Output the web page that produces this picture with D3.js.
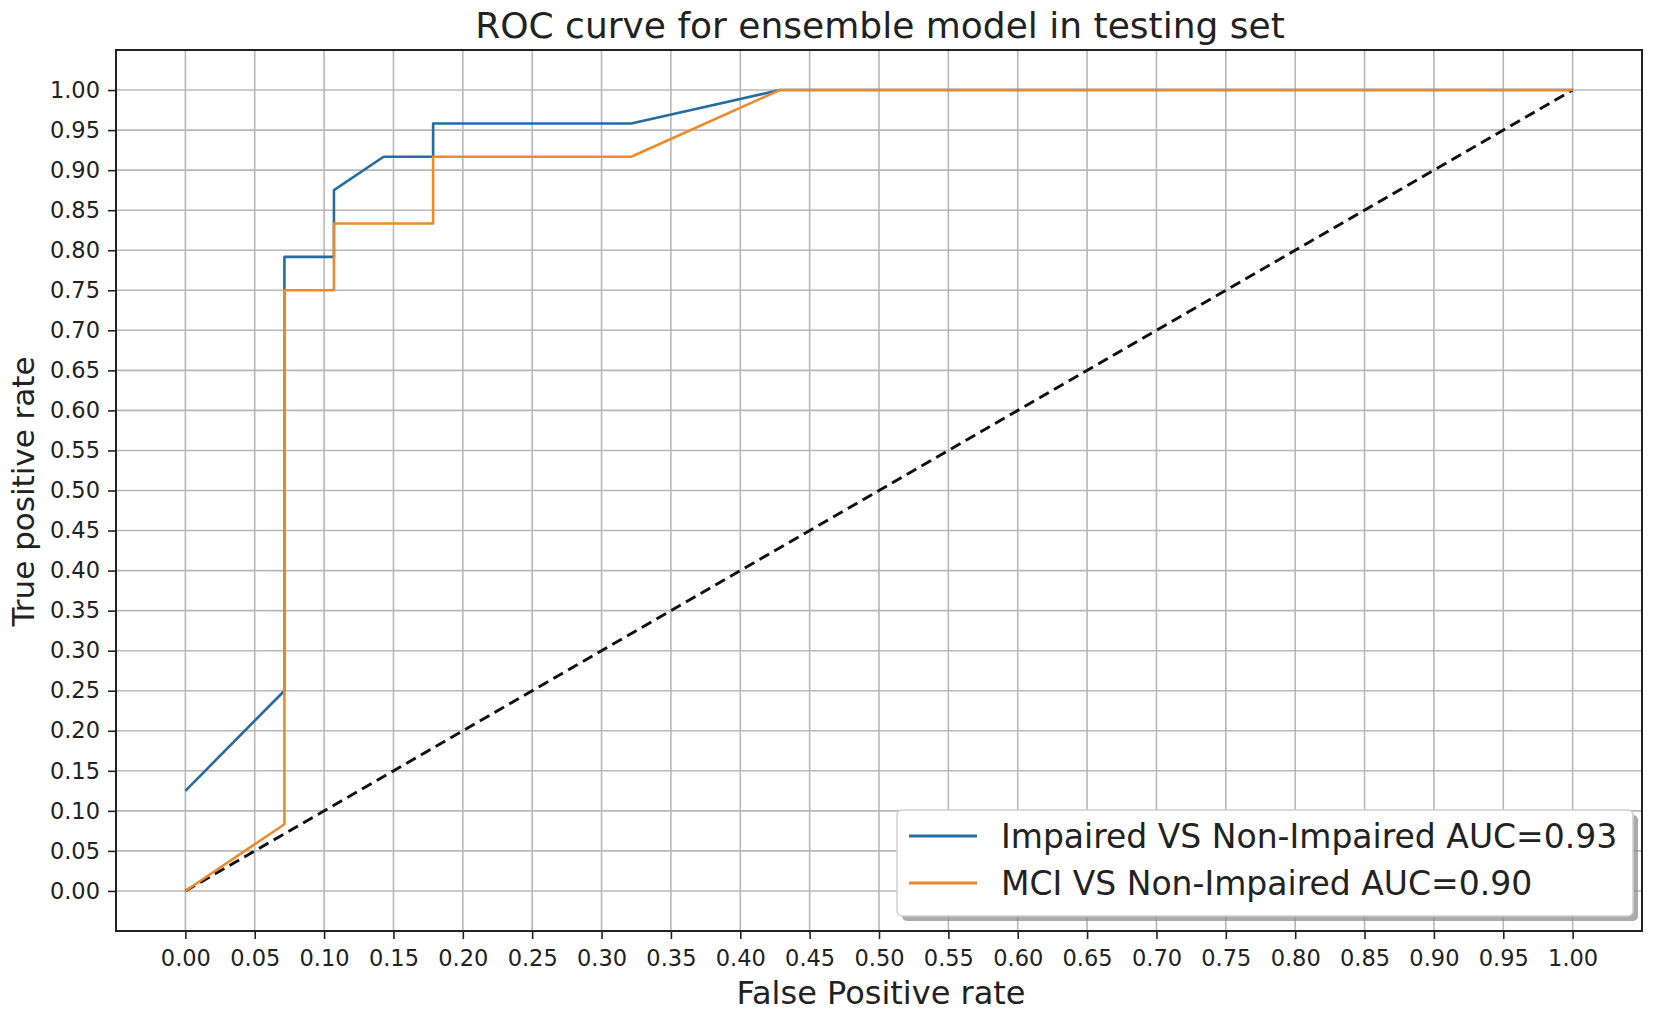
<!DOCTYPE html>
<html>
<head>
<meta charset="utf-8">
<script src="https://cdn.jsdelivr.net/npm/d3@7"></script>
<style>
  body { margin: 0; background: #fff; }
  text { font-family: "DejaVu Sans", sans-serif; fill: #222; }
</style>
</head>
<body>
<div id="graph"></div>
<script>
// false positive / true positive rates
const impairedFpr = [0, 0.0714, 0.0714, 0.1071, 0.1071, 0.1429, 0.1786, 0.1786, 0.3214, 0.4286, 1.0];
const impairedTpr = [0.125, 0.25, 0.7917, 0.7917, 0.875, 0.9167, 0.9167, 0.9583, 0.9583, 1.0, 1.0];
const mciFpr = [0, 0.0714, 0.0714, 0.1071, 0.1071, 0.1786, 0.1786, 0.3214, 0.4286, 1.0];
const mciTpr = [0, 0.0833, 0.75, 0.75, 0.8333, 0.8333, 0.9167, 0.9167, 1.0, 1.0];
const chanceLine = [0, 1];
const seriesNames = ["Impaired VS Non-Impaired AUC=0.93", "MCI VS Non-Impaired AUC=0.90"];
const seriesColors = ["#266c9e", "#ec8b2c"];
const tickValues = d3.range(0, 21).map(i => i * 0.05);

const width = 1654, height = 1014;
const margin = { top: 50, right: 12, bottom: 83, left: 116 };

const svg = d3.select("#graph").append("svg")
  .attr("width", width)
  .attr("height", height);

const x = d3.scaleLinear().domain([-0.05, 1.05]).range([margin.left, width - margin.right]);
const y = d3.scaleLinear().domain([-0.05, 1.05]).range([height - margin.bottom, margin.top]);

// grid
svg.append("g").selectAll("line.vg")
  .data(tickValues)
  .enter().append("line")
  .attr("x1", d => x(d)).attr("x2", d => x(d))
  .attr("y1", margin.top).attr("y2", height - margin.bottom)
  .attr("stroke", "#b8b8b8").attr("stroke-width", 1.6);

svg.append("g").selectAll("line.hg")
  .data(tickValues)
  .enter().append("line")
  .attr("y1", d => y(d)).attr("y2", d => y(d))
  .attr("x1", margin.left).attr("x2", width - margin.right)
  .attr("stroke", "#b8b8b8").attr("stroke-width", 1.6);

// axes
const xAxis = svg.append("g")
  .attr("transform", `translate(0,${height - margin.bottom})`)
  .call(d3.axisBottom(x).tickValues(tickValues).tickFormat(d3.format(".2f")).tickSize(8).tickPadding(11));
const yAxis = svg.append("g")
  .attr("transform", `translate(${margin.left},0)`)
  .call(d3.axisLeft(y).tickValues(tickValues).tickFormat(d3.format(".2f")).tickSize(8).tickPadding(8));

[xAxis, yAxis].forEach(a => {
  a.select(".domain").remove();
  a.selectAll(".tick line").attr("stroke", "#222").attr("stroke-width", 1.6);
  a.selectAll(".tick text").style("font-size", "22.5px").attr("fill", "#222");
});

// curves
const line = d3.line().x(d => x(d[0])).y(d => y(d[1]));

svg.append("path")
  .datum(chanceLine.map(v => [v, v]))
  .attr("d", line)
  .attr("fill", "none")
  .attr("stroke", "#111")
  .attr("stroke-width", 3)
  .attr("stroke-dasharray", "11,6");

const curves = [
  d3.zip(impairedFpr, impairedTpr),
  d3.zip(mciFpr, mciTpr)
];

svg.append("g").selectAll("path")
  .data(curves)
  .enter().append("path")
  .attr("d", line)
  .attr("fill", "none")
  .attr("stroke", (d, i) => seriesColors[i])
  .attr("stroke-width", 2.6)
  .attr("stroke-linejoin", "round");

// frame
svg.append("rect")
  .attr("x", margin.left).attr("y", margin.top)
  .attr("width", width - margin.left - margin.right)
  .attr("height", height - margin.top - margin.bottom)
  .attr("fill", "none").attr("stroke", "#222").attr("stroke-width", 2);

// legend
const lg = svg.append("g").attr("transform", "translate(897,810)");
lg.append("rect")
  .attr("x", 5).attr("y", 5).attr("width", 736).attr("height", 106)
  .attr("rx", 5).attr("fill", "#888").attr("opacity", 0.7);
lg.append("rect")
  .attr("width", 736).attr("height", 106)
  .attr("rx", 5).attr("fill", "#fff").attr("stroke", "#d0d0d0").attr("stroke-width", 1.5);

lg.selectAll("line")
  .data(seriesNames)
  .enter().append("line")
  .attr("x1", 12).attr("x2", 80)
  .attr("y1", (d, i) => 26 + i * 47).attr("y2", (d, i) => 26 + i * 47)
  .attr("stroke", (d, i) => seriesColors[i])
  .attr("stroke-width", 3);

lg.selectAll("text")
  .data(seriesNames)
  .enter().append("text")
  .text(d => d)
  .attr("x", 104)
  .attr("y", (d, i) => 38 + i * 47)
  .style("font-size", "33px");

// titles
svg.append("text")
  .text("ROC curve for ensemble model in testing set")
  .attr("x", (margin.left + width - margin.right) / 2 + 1)
  .attr("y", 38)
  .attr("text-anchor", "middle")
  .style("font-size", "36px");

svg.append("text")
  .text("False Positive rate")
  .attr("x", (margin.left + width - margin.right) / 2 + 2)
  .attr("y", 1004)
  .attr("text-anchor", "middle")
  .style("font-size", "32px");

svg.append("text")
  .text("True positive rate")
  .attr("transform", `translate(34,${(margin.top + height - margin.bottom) / 2 + 1}) rotate(-90)`)
  .attr("text-anchor", "middle")
  .style("font-size", "31px");
</script>
</body>
</html>
